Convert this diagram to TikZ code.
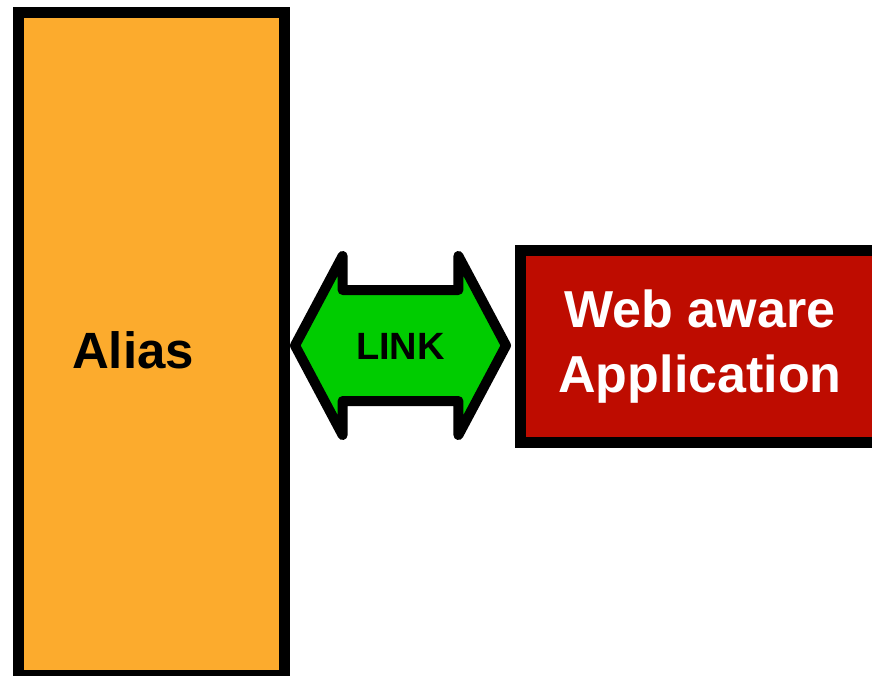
\documentclass[tikz,border=0pt]{standalone}
\usepackage{fontspec}
\setmainfont{Liberation Sans}
\usetikzlibrary{shapes.arrows}
\definecolor{aliasorange}{RGB}{252,171,45}
\definecolor{appred}{RGB}{190,12,0}
\definecolor{linkgreen}{RGB}{0,204,0}

\begin{document}
\begin{tikzpicture}[x=1pt,y=-1pt]
\begin{scope}

\tikzstyle{boxnode} = [draw,line width=11pt,inner sep=0pt,outer sep=0pt];
\tikzstyle{linknode} = [double arrow,draw,fill=linkgreen,line width=10pt,line join=round,inner xsep=0pt,inner ysep=37pt,text height=27pt,text depth=0pt,minimum height=211pt,double arrow head extend=34pt,double arrow tip angle=124];

\useasboundingbox (0,0) rectangle (872,676);
\fill [white] (0,0) rectangle (872,676);

\node [boxnode,fill=aliasorange,minimum width=265.5pt,minimum height=663pt] (alias) at (151.25,344) {};
\node [font=\bfseries\fontsize{51}{60}\selectfont] (aliastext) at (133,350) {Alias};

\node [boxnode,fill=appred,minimum width=379.5pt,minimum height=191.5pt] (app) at (710.25,346.25) {};
\node [font=\bfseries\fontsize{52}{65}\selectfont,text=white,align=center] (apptext) at (700,347) {Web aware\\Application};

\node [linknode,font=\bfseries\fontsize{38}{46}\selectfont] (link) at (400.5,345.5) {LINK};

\end{scope}
\end{tikzpicture}
\end{document}
